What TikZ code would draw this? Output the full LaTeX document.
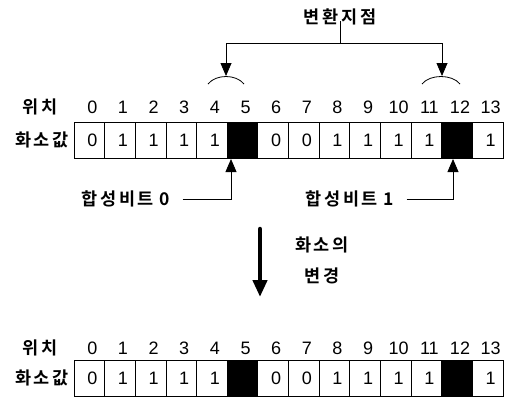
\documentclass[tikz,border=0pt]{standalone}
\usepackage{fontspec}
\setmainfont{Liberation Sans}
\newfontfamily\kr{Noto Sans CJK KR}[BoldFont={* Bold}, LetterSpace=15]
\usetikzlibrary{arrows.meta}
\begin{document}
\begin{tikzpicture}[x=1pt,y=-1pt,
  cell/.style={draw, line width=0.8pt, minimum width=30.64pt, minimum height=36pt, inner sep=0pt, anchor=center, font=\fontsize{18}{18}\selectfont},
  blk/.style={cell, fill=black},
  num/.style={inner sep=0pt, font=\fontsize{18}{18}\selectfont},
  kor/.style={inner sep=0pt, font=\kr\bfseries\fontsize{17.5}{17.5}\selectfont},
  thinline/.style={line width=0.8pt},
  arr/.style={thinline, -{Triangle[length=13pt,width=11pt]}},
  bigarr/.style={line width=4.5pt, line cap=round, -{Triangle[length=17pt,width=14pt]}},
]
\useasboundingbox (0,0) rectangle (517,397);

% top row
\node[kor] (lpos1) at (40,107) {위치};
\node[kor] (lval1) at (42,140) {화소값};
\foreach \i/\v in {0/0,1/1,2/1,3/1,4/1,6/0,7/0,8/1,9/1,10/1,11/1,13/1} {
  \node[cell] (c\i) at ({74+30.64*(\i+0.5)},140) {\hspace*{6pt}\v};
}
\foreach \i in {5,12} {
  \node[blk] (c\i) at ({74+30.64*(\i+0.5)},140) {};
}
\foreach \i in {0,...,13} {
  \node[num] (p\i) at ({77+30.64*(\i+0.5)},107) {\i};
}

% bottom row
\node[kor] (lpos2) at (40,348) {위치};
\node[kor] (lval2) at (42,378) {화소값};
\foreach \i/\v in {0/0,1/1,2/1,3/1,4/1,6/0,7/0,8/1,9/1,10/1,11/1,13/1} {
  \node[cell] (d\i) at ({74+30.64*(\i+0.5)},378.5) {\hspace*{6pt}\v};
}
\foreach \i in {5,12} {
  \node[blk] (d\i) at ({74+30.64*(\i+0.5)},378.5) {};
}
\foreach \i in {0,...,13} {
  \node[num] (q\i) at ({77+30.64*(\i+0.5)},348) {\i};
}

% transition point
\node[kor] (vt) at (340,17) {변환지점};
\coordinate (j) at (340,43);
\coordinate (a1) at (226,76);
\coordinate (a2) at (442,76);
\draw[thinline] ([yshift=4pt]vt.south) -- (j);
\draw[arr] (j) -| (a1);
\draw[arr] (j) -| (a2);
\draw[thinline] (208,84) .. controls (216,74) and (236,74) .. (244,84);
\draw[thinline] (422,84) .. controls (430,74) and (452,74) .. (460,84);

% composite bits
\node[kor] (h0) at (126,199) {합성비트\hspace{6pt}0};
\node[kor] (h1) at (350,199) {합성비트\hspace{6pt}1};
\coordinate (b0) at (231,159);
\coordinate (b1) at (453,159);
\draw[arr] ([xshift=12pt]h0.east) -| (b0);
\draw[arr] ([xshift=12pt]h1.east) -| (b1);

% change arrow
\coordinate (s1) at (260,229);
\coordinate (s2) at (260,297);
\draw[bigarr] (s1) -- (s2);
\node[kor] (m1) at (322,245) {화소의};
\node[kor] (m2) at (322,276) {변경};
\end{tikzpicture}
\end{document}
